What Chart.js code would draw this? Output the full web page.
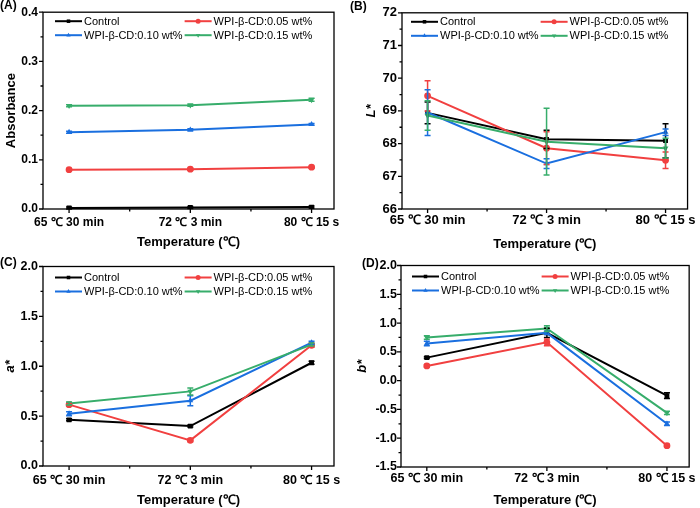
<!DOCTYPE html>
<html>
<head>
<meta charset="utf-8">
<script src="https://cdn.jsdelivr.net/npm/chart.js@4.4.1/dist/chart.umd.min.js"></script>
<style>
  body { margin: 0; background: #fff; }
  #grid { display: grid; grid-template-columns: 350px 350px; grid-template-rows: 254px 254px; width: 700px; height: 508px; }
  canvas { display: block; }
</style>
</head>
<body>
<div id="grid">
  <canvas id="chartA" width="350" height="254"></canvas>
  <canvas id="chartB" width="350" height="254"></canvas>
  <canvas id="chartC" width="350" height="254"></canvas>
  <canvas id="chartD" width="350" height="254"></canvas>
</div>
<script>
// categories and series
const categorias = ["65 ℃ 30 min", "72 ℃ 3 min", "80 ℃ 15 s"];
const seriesNames = ["Control", "WPI-β-CD:0.05 wt%", "WPI-β-CD:0.10 wt%", "WPI-β-CD:0.15 wt%"];
const seriesColors = ["#000000", "#F14040", "#1A6FDF", "#37AD6B"];
const seriesMarkers = ["rect", "circle", "triangle", "triangle"];
const seriesRotation = [0, 0, 0, 180];

// (A) Absorbance
const absControl = [0.002, 0.003, 0.004];
const abs005 = [0.080, 0.081, 0.085];
const abs010 = [0.156, 0.161, 0.172];
const abs015 = [0.210, 0.211, 0.222];
const absControlErr = [0.002, 0.002, 0.002];
const abs005Err = [0.002, 0.002, 0.002];
const abs010Err = [0.002, 0.002, 0.002];
const abs015Err = [0.002, 0.002, 0.003];

// (B) L*
const lControl = [68.94, 68.13, 68.09];
const l005 = [69.46, 67.86, 67.49];
const l010 = [68.95, 67.39, 68.35];
const l015 = [68.86, 68.06, 67.86];
const lControlErr = [0.33, 0.28, 0.52];
const l005Err = [0.46, 0.5, 0.25];
const l010Err = [0.70, 0.15, 0.1];
const l015Err = [0.45, 1.02, 0.3];

// (C) a*
const aControl = [0.463, 0.40, 1.035];
const a005 = [0.615, 0.257, 1.21];
const a010 = [0.525, 0.655, 1.236];
const a015 = [0.626, 0.748, 1.217];
const aControlErr = [0.01, 0.01, 0.015];
const a005Err = [0.015, 0.015, 0.02];
const a010Err = [0.02, 0.05, 0.015];
const a015Err = [0.015, 0.035, 0.015];

// (D) b*
const bControl = [0.40, 0.83, -0.26];
const b005 = [0.255, 0.665, -1.13];
const b010 = [0.645, 0.83, -0.75];
const b015 = [0.75, 0.905, -0.56];
const bControlErr = [0.015, 0.08, 0.05];
const b005Err = [0.02, 0.06, 0.02];
const b010Err = [0.04, 0.03, 0.03];
const b015Err = [0.03, 0.05, 0.03];

const FONT = "'Liberation Sans', Arial, sans-serif";

// frame + outward ticks (major and minor)
const framePlugin = {
    id: "frame",
    beforeDatasetsDraw(chart) {
        const { ctx, chartArea: a, scales: { x, y } } = chart;
        ctx.save();
        ctx.strokeStyle = "#000";
        ctx.lineWidth = 1.3;
        ctx.strokeRect(a.left, a.top, a.right - a.left, a.bottom - a.top);

        // y ticks
        const yt = y.ticks.map(t => t.value);
        const step = yt[1] - yt[0];
        ctx.beginPath();
        yt.forEach((v, i) => {
            const py = y.getPixelForValue(v);
            ctx.moveTo(a.left, py); ctx.lineTo(a.left - 4, py);
            if (i < yt.length - 1) {
                const pm = y.getPixelForValue(v + step / 2);
                ctx.moveTo(a.left, pm); ctx.lineTo(a.left - 2.5, pm);
            }
        });
        // x ticks
        categorias.forEach((c, i) => {
            const px = x.getPixelForValue(i + 1);
            ctx.moveTo(px, a.bottom); ctx.lineTo(px, a.bottom + 4);
            if (i < categorias.length - 1) {
                const pm = x.getPixelForValue(i + 1.5);
                ctx.moveTo(pm, a.bottom); ctx.lineTo(pm, a.bottom + 2.5);
            }
        });
        ctx.stroke();
        ctx.restore();
    },
    afterDatasetsDraw(chart) {
        // error bars
        const { ctx, scales: { y } } = chart;
        ctx.save();
        chart.data.datasets.forEach((ds, k) => {
            const meta = chart.getDatasetMeta(k);
            ctx.strokeStyle = ds.borderColor;
            ctx.lineWidth = 1.5;
            ctx.beginPath();
            ds.data.forEach((p, i) => {
                const e = ds.errors[i];
                const px = meta.data[i].x;
                const top = y.getPixelForValue(p.y + e);
                const bot = y.getPixelForValue(p.y - e);
                ctx.moveTo(px, top); ctx.lineTo(px, bot);
                ctx.moveTo(px - 3, top); ctx.lineTo(px + 3, top);
                ctx.moveTo(px - 3, bot); ctx.lineTo(px + 3, bot);
            });
            ctx.stroke();
        });
        ctx.restore();
    },
    afterDraw(chart, args, opts) {
        const { ctx, chartArea: a } = chart;
        ctx.save();
        // panel label
        ctx.fillStyle = "#000";
        ctx.font = "bold 12px " + FONT;
        ctx.textBaseline = "middle";
        ctx.textAlign = "left";
        ctx.fillText(opts.label, opts.labelX, opts.labelY);

        // legend inside the plot, 2 columns
        ctx.font = "11px " + FONT;
        const ds = chart.data.datasets;
        const x1 = a.left + opts.legX;
        const w1 = Math.max(ctx.measureText(ds[0].label).width, ctx.measureText(ds[2].label).width);
        const x2 = x1 + 30 + w1 + 1;
        ds.forEach((d, k) => {
            const lx = k % 2 === 0 ? x1 : x2;
            const ly = a.top + opts.legY + Math.floor(k / 2) * 14;
            ctx.strokeStyle = d.borderColor;
            ctx.lineWidth = 2;
            ctx.beginPath();
            ctx.moveTo(lx, ly); ctx.lineTo(lx + 27, ly);
            ctx.stroke();
            ctx.fillStyle = d.borderColor;
            Chart.helpers.drawPoint(ctx, { pointStyle: d.pointStyle, rotation: d.pointRotation, radius: 2.5, borderWidth: 0 }, lx + 13.5, ly);
            ctx.fillStyle = "#000";
            ctx.fillText(d.label, lx + 29, ly + 0.5);
        });
        ctx.restore();
    }
};

function makeDatasets(values, errors) {
    return values.map((serie, k) => ({
        label: seriesNames[k],
        data: serie.map((v, i) => ({ x: i + 1, y: v })),
        errors: errors[k],
        borderColor: seriesColors[k],
        backgroundColor: seriesColors[k],
        borderWidth: 2,
        pointStyle: seriesMarkers[k],
        pointRotation: seriesRotation[k],
        pointRadius: 3.4,
        pointBorderWidth: 0,
        order: 3 - k
    }));
}

function renderPanel(id, cfg) {
    const canvas = document.getElementById(id);
    const ctx = canvas.getContext("2d");
    new Chart(ctx, {
        type: "line",
        data: { datasets: makeDatasets(cfg.values, cfg.errors) },
        plugins: [framePlugin],
        options: {
            responsive: false,
            animation: false,
            events: [],
            layout: { padding: { top: cfg.top, right: 350 - cfg.right, left: 0, bottom: 0 } },
            plugins: {
                legend: { display: false },
                tooltip: { enabled: false },
                frame: { label: cfg.label, labelX: cfg.labelX, labelY: cfg.labelY, legX: cfg.legX, legY: cfg.legY }
            },
            scales: {
                x: {
                    type: "linear",
                    min: 0.785,
                    max: 3.185,
                    grid: { display: false, drawTicks: false },
                    border: { display: false },
                    afterBuildTicks: s => { s.ticks = categorias.map((c, i) => ({ value: i + 1 })); },
                    afterFit: s => { s.height = 254 - cfg.bottom; },
                    ticks: {
                        autoSkip: false, maxRotation: 0, padding: cfg.xPad, color: "#000",
                        font: { family: FONT, size: cfg.tickSize, weight: "bold" },
                        callback: (v, i) => categorias[i]
                    },
                    title: {
                        display: true, text: "Temperature (℃)", color: "#000",
                        font: { family: FONT, size: 13, weight: "bold" },
                        padding: { top: 0, bottom: cfg.xTitlePad }
                    }
                },
                y: {
                    min: cfg.yMin,
                    max: cfg.yMax,
                    grid: { display: false, drawTicks: false },
                    border: { display: false },
                    afterFit: s => { s.width = cfg.left; },
                    ticks: {
                        stepSize: cfg.yStep, padding: cfg.yPad, color: "#000",
                        font: { family: FONT, size: cfg.tickSize, weight: "bold" },
                        callback: v => v.toFixed(cfg.yDec)
                    },
                    title: {
                        display: true, text: cfg.yTitle, color: "#000",
                        font: { family: FONT, size: 13, weight: "bold", style: cfg.yItalic ? "italic" : "normal" },
                        padding: { top: cfg.yTitlePad, bottom: 0 }
                    }
                }
            }
        }
    });
}

document.addEventListener("DOMContentLoaded", () => {
    renderPanel("chartA", {
        values: [absControl, abs005, abs010, abs015],
        errors: [absControlErr, abs005Err, abs010Err, abs015Err],
        yMin: 0, yMax: 0.4, yStep: 0.1, yDec: 1, yTitle: "Absorbance", yItalic: false,
        left: 43, right: 334, top: 7, bottom: 209, tickSize: 12, yPad: 5,
        xPad: 6, xTitlePad: 4, yTitlePad: 4,
        label: "(A)", labelX: 0, labelY: 6, legX: 12, legY: 9
    });
    renderPanel("chartB", {
        values: [lControl, l005, l010, l015],
        errors: [lControlErr, l005Err, l010Err, l015Err],
        yMin: 66, yMax: 72, yStep: 1, yDec: 0, yTitle: "L*", yItalic: true,
        left: 52, right: 344, top: 7, bottom: 209, tickSize: 13, yPad: 5,
        xPad: 4, xTitlePad: 2, yTitlePad: 14,
        label: "(B)", labelX: 0, labelY: 7, legX: 9, legY: 9
    });
    renderPanel("chartC", {
        values: [aControl, a005, a010, a015],
        errors: [aControlErr, a005Err, a010Err, a015Err],
        yMin: 0, yMax: 2, yStep: 0.5, yDec: 1, yTitle: "a*", yItalic: true,
        left: 43, right: 334, top: 10, bottom: 212, tickSize: 12.5, yPad: 5,
        xPad: 7, xTitlePad: 0, yTitlePad: 3,
        label: "(C)", labelX: 0, labelY: 9, legX: 12, legY: 11
    });
    renderPanel("chartD", {
        values: [bControl, b005, b010, b015],
        errors: [bControlErr, b005Err, b010Err, b015Err],
        yMin: -1.5, yMax: 2, yStep: 0.5, yDec: 1, yTitle: "b*", yItalic: true,
        left: 51, right: 344, top: 10, bottom: 213, tickSize: 12.5, yPad: 4,
        xPad: 4, xTitlePad: 0, yTitlePad: 5,
        label: "(D)", labelX: 12, labelY: 10, legX: 11, legY: 11
    });
});
</script>
</body>
</html>
